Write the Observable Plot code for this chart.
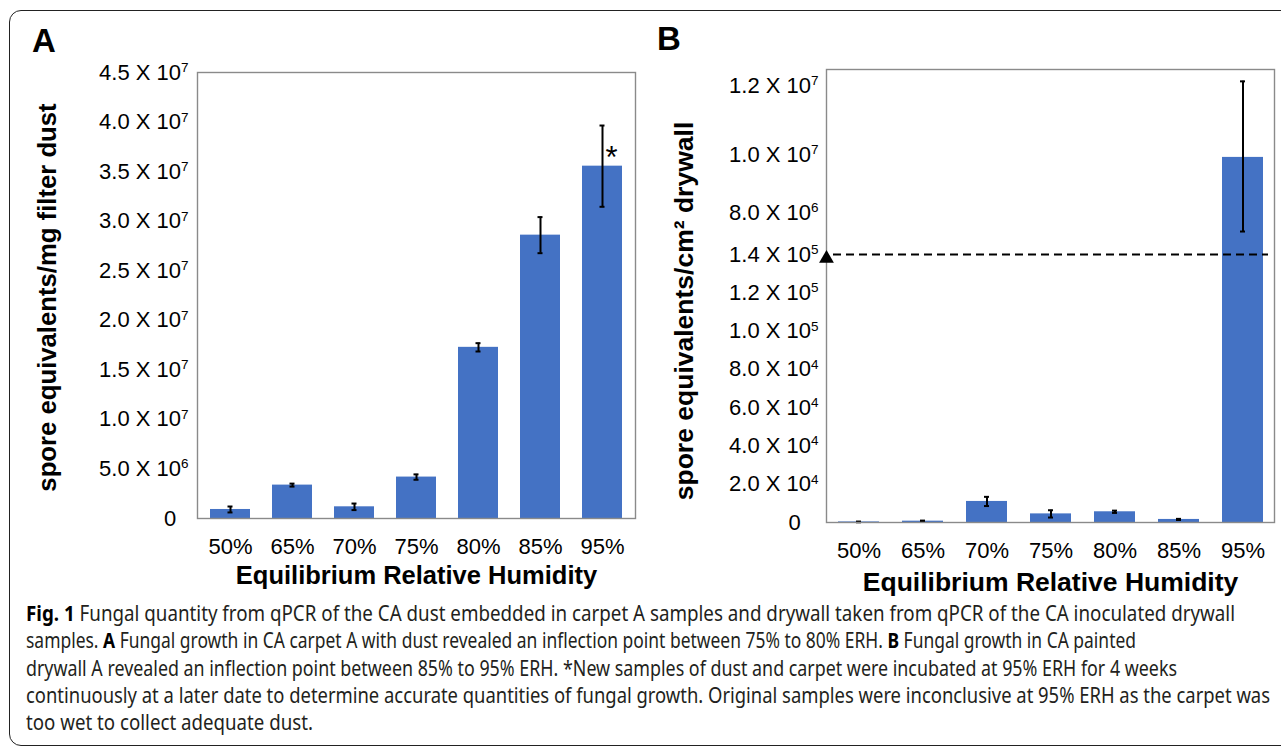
<!DOCTYPE html>
<html>
<head>
<meta charset="utf-8">
<script src="https://cdn.jsdelivr.net/npm/d3@7"></script>
<script src="https://cdn.jsdelivr.net/npm/@observablehq/plot@0.6"></script>
<style>
  html, body { margin: 0; padding: 0; background: #fff; }
  #fig { position: relative; width: 1281px; height: 747px; overflow: hidden; background: #fff; }
  #border { position: absolute; left: 9px; top: 10px; width: 1320px; height: 734px; border: 1.6px solid #222; border-radius: 12px; }
  .panel { position: absolute; top: 0; }
  .letter { position: absolute; font-family: "Liberation Sans", Arial, sans-serif; font-weight: bold; font-size: 33px; line-height: 33px; color: #000; }
  #caption { position: absolute; left: 26px; top: 600px; font-family: "Noto Sans", "Open Sans", sans-serif; font-size: 21px; line-height: 27.3px; color: #231f20; }
  #caption .ln { display: table; white-space: nowrap; transform-origin: 0 0; }
  #caption b { color: #000; }
</style>
</head>
<body>
<div id="fig">
  <div id="border"></div>
  <div id="panelA" class="panel" style="left:0px"></div>
  <div id="panelB" class="panel" style="left:640px"></div>
  <div class="letter" style="left:32px; top:24px">A</div>
  <div class="letter" style="left:657px; top:22px">B</div>
  <div id="caption">
    <div class="ln" data-w="1209"><b>Fig. 1</b> Fungal quantity from qPCR of the CA dust embedded in carpet A samples and drywall taken from qPCR of the CA inoculated drywall</div>
    <div class="ln" data-w="1110">samples. <b>A</b> Fungal growth in CA carpet A with dust revealed an inflection point between 75% to 80% ERH. <b>B</b> Fungal growth in CA painted</div>
    <div class="ln" data-w="1151">drywall A revealed an inflection point between 85% to 95% ERH. *New samples of dust and carpet were incubated at 95% ERH for 4 weeks</div>
    <div class="ln" data-w="1244">continuously at a later date to determine accurate quantities of fungal growth. Original samples were inconclusive at 95% ERH as the carpet was</div>
    <div class="ln" data-w="287">too wet to collect adequate dust.</div>
  </div>
</div>
<script>
// ---------- data ----------
const categories = ["50%", "65%", "70%", "75%", "80%", "85%", "95%"];

// Panel A: spore equivalents / mg filter dust (mean ± error)
const valuesA = [0.91e6, 3.37e6, 1.18e6, 4.18e6, 1.727e7, 2.859e7, 3.555e7];
const errorsA = [0.30e6, 0.15e6, 0.33e6, 0.27e6, 0.42e6, 1.82e6, 4.1e6];
const yTicksA = [0, 5e6, 1e7, 1.5e7, 2e7, 2.5e7, 3e7, 3.5e7, 4e7, 4.5e7];
const yTickLabelsA = ["0", "5.0 X 10⁶", "1.0 X 10⁷", "1.5 X 10⁷", "2.0 X 10⁷", "2.5 X 10⁷", "3.0 X 10⁷", "3.5 X 10⁷", "4.0 X 10⁷", "4.5 X 10⁷"];
const yDomainA = [0, 4.5e7];
const annotationA = [{category: "95%", value: 3.555e7, label: "*"}];

// Panel B: spore equivalents / cm² drywall (mean, error low, error high)
const valuesB  = [300, 700, 11000, 4500, 5600, 1600, 9.9e6];
const errLowB  = [100, 400, 8600, 2600, 5000, 1300, 4.44e6];
const errHighB = [500, 1000, 13400, 6400, 6200, 1900, 1.212e7];
const yTicksB = [0, 2e4, 4e4, 6e4, 8e4, 1e5, 1.2e5, 1.4e5, 8e6, 1e7, 1.2e7];
const yTickLabelsB = ["0", "2.0 X 10⁴", "4.0 X 10⁴", "6.0 X 10⁴", "8.0 X 10⁴", "1.0 X 10⁵", "1.2 X 10⁵", "1.4 X 10⁵", "8.0 X 10⁶", "1.0 X 10⁷", "1.2 X 10⁷"];
const yBreakpointsB = [0, 1.4e5, 8e6, 1e7, 1.2e7];   // broken (piecewise) axis
const breakValueB = 1.4e5;

const xTitle = "Equilibrium Relative Humidity";
const yTitleA = "spore equivalents/mg filter dust";
const yTitleB = "spore equivalents/cm² drywall";

// ---------- build tables ----------
const dataA = categories.map((c, i) => ({rh: c, v: valuesA[i], lo: valuesA[i] - errorsA[i], hi: valuesA[i] + errorsA[i]}));
const dataB = categories.map((c, i) => ({rh: c, v: valuesB[i], lo: errLowB[i], hi: errHighB[i]}));

const barColor = "#4472C4";
const font = "'Liberation Sans', Arial, sans-serif";

function fmt(ticks, labels, zeroPad) {
  return d => {
    const i = ticks.indexOf(d);
    const s = i >= 0 ? labels[i] : "";
    return d === 0 ? s + zeroPad : s;
  };
}

// turn Unicode superscript digits of tick labels into raised tspans
const supMap = {"⁰":"0","¹":"1","²":"2","³":"3","⁴":"4","⁵":"5","⁶":"6","⁷":"7","⁸":"8","⁹":"9"};
function superscriptify(svg) {
  svg.querySelectorAll('g[aria-label="y-axis tick label"] text').forEach(t => {
    const m = t.textContent.match(/^(.*?)([⁰¹²³⁴⁵⁶⁷⁸⁹]+)$/);
    if (!m) return;
    t.textContent = m[1];
    const ts = document.createElementNS("http://www.w3.org/2000/svg", "tspan");
    ts.setAttribute("dy", "-7.5");
    ts.setAttribute("font-size", "13.5");
    ts.textContent = m[2].split("").map(c => supMap[c]).join("");
    t.appendChild(ts);
  });
}

// ---------- Panel A ----------
const plotA = Plot.plot({
  width: 650, height: 600,
  marginTop: 72, marginLeft: 197, marginRight: 15, marginBottom: 82,
  style: {fontFamily: font, fontSize: "22px", color: "#000", background: "transparent", overflow: "visible"},
  x: {domain: categories, paddingInner: 0.36, paddingOuter: 0.18, label: null},
  y: {domain: yDomainA, label: null},
  marks: [
    Plot.barY(dataA, {x: "rh", y: "v", fill: barColor}),
    Plot.ruleX(dataA, {x: "rh", y1: "lo", y2: "hi", stroke: "#000", strokeWidth: 2}),
    Plot.tickY(dataA, {x: "rh", y: "lo", stroke: "#000", strokeWidth: 2, insetLeft: 17.5, insetRight: 17.5}),
    Plot.tickY(dataA, {x: "rh", y: "hi", stroke: "#000", strokeWidth: 2, insetLeft: 17.5, insetRight: 17.5}),
    Plot.frame({stroke: "#8a8a8a", strokeWidth: 1.4}),
    Plot.axisX({tickSize: 0, tickPadding: 20, label: null}),
    Plot.axisY({ticks: yTicksA, tickFormat: fmt(yTicksA, yTickLabelsA, "\u2007"), tickSize: 0, tickPadding: 9, label: null}),
    Plot.text(annotationA, {x: "category", y: "value", text: "label", dx: 9, dy: -8, fontSize: 31, fill: "#000", textAnchor: "middle", lineAnchor: "middle"}),
    Plot.text([xTitle], {frameAnchor: "bottom", dy: 57, text: d => d, fontWeight: "bold", fontSize: 25.5, fill: "#000", textAnchor: "middle", lineAnchor: "middle"}),
    Plot.text([yTitleA], {frameAnchor: "left", dx: -150, dy: 2, rotate: -90, text: d => d, fontWeight: "bold", fontSize: 25.7, fill: "#000", textAnchor: "middle", lineAnchor: "middle"})
  ]
});
superscriptify(plotA);
document.getElementById("panelA").appendChild(plotA);

// ---------- Panel B ----------
const plotB = Plot.plot({
  width: 641, height: 610,
  marginTop: 69, marginLeft: 186, marginRight: 7, marginBottom: 88,
  style: {fontFamily: font, fontSize: "22px", color: "#000", background: "transparent", overflow: "visible"},
  x: {domain: categories, paddingInner: 0.36, paddingOuter: 0.18, label: null},
  y: {type: "linear", domain: yBreakpointsB, range: [522, 254, 212, 154, 85], label: null},
  marks: [
    Plot.barY(dataB, {x: "rh", y: "v", fill: barColor}),
    Plot.ruleX(dataB, {x: "rh", y1: "lo", y2: "hi", stroke: "#000", strokeWidth: 2}),
    Plot.tickY(dataB, {x: "rh", y: "lo", stroke: "#000", strokeWidth: 2, insetLeft: 18, insetRight: 18}),
    Plot.tickY(dataB, {x: "rh", y: "hi", stroke: "#000", strokeWidth: 2, insetLeft: 18, insetRight: 18}),
    Plot.ruleY([breakValueB], {y: d => d, stroke: "#000", strokeWidth: 2, strokeDasharray: "8,5", insetLeft: 7, insetRight: 6}),
    Plot.frame({stroke: "#8a8a8a", strokeWidth: 1.4}),
    Plot.dot([breakValueB], {y: d => d, frameAnchor: "left", symbol: "triangle", r: 5.5, fill: "#000", stroke: "none", dy: 4}),
    Plot.axisX({tickSize: 0, tickPadding: 20, label: null}),
    Plot.axisY({ticks: yTicksB, tickFormat: fmt(yTicksB, yTickLabelsB, "\u2007\u2005"), tickSize: 0, tickPadding: 8, label: null}),
    Plot.text([xTitle], {frameAnchor: "bottom", dy: 60, text: d => d, fontWeight: "bold", fontSize: 26.5, fill: "#000", textAnchor: "middle", lineAnchor: "middle"}),
    Plot.text([yTitleB], {frameAnchor: "left", dx: -141.5, dy: 15, rotate: -90, text: d => d, fontWeight: "bold", fontSize: 26.5, fill: "#000", textAnchor: "middle", lineAnchor: "middle"})
  ]
});
superscriptify(plotB);
document.getElementById("panelB").appendChild(plotB);

// ---------- fit caption lines to the reference line lengths ----------
function fitCaption() {
  document.querySelectorAll("#caption .ln").forEach(el => {
    el.style.transform = "none";
    const w = el.getBoundingClientRect().width;
    const target = +el.dataset.w;
    if (w > 0) el.style.transform = `scaleX(${target / w})`;
  });
}
fitCaption();
if (document.fonts && document.fonts.ready) document.fonts.ready.then(fitCaption);
</script>
</body>
</html>
